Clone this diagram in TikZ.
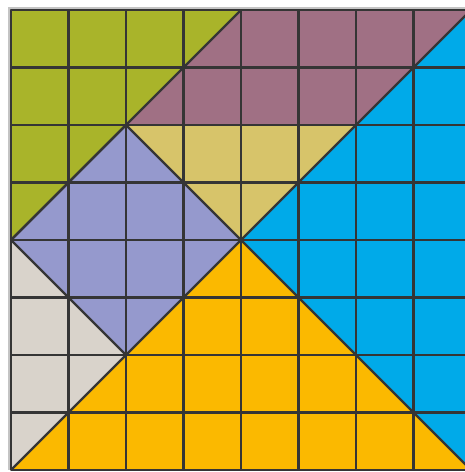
\documentclass[tikz,border=0pt]{standalone}
\begin{document}
\begin{tikzpicture}[x=1pt,y=-1pt,
  piece/.style={draw=linec,line width=2.2pt,line join=round},
  gridl/.style={draw=linec,line width=2.2pt}]
\definecolor{linec}{HTML}{353535}
\definecolor{cgreen}{HTML}{A9B42A}
\definecolor{cmauve}{HTML}{A07084}
\definecolor{ckhaki}{HTML}{D7C46A}
\definecolor{clav}{HTML}{9599CD}
\definecolor{cgray}{HTML}{D9D3CB}
\definecolor{corange}{HTML}{FBB900}
\definecolor{cblue}{HTML}{00AAE9}
\definecolor{shadow}{HTML}{C4C4C4}
\useasboundingbox (0,0) rectangle (465,472);
\clip (0,0) rectangle (465,472);
\fill[white] (0,0) rectangle (465,472);
\fill[shadow] (8,7) rectangle (471,470);
\begin{scope}[shift={(11,10)},x=57.5pt,y=-57.5pt]
  \fill[cgreen] (0,0) -- (4,0) -- (0,4) -- cycle;
  \fill[cmauve] (4,0) -- (8,0) -- (6,2) -- (2,2) -- cycle;
  \fill[ckhaki] (2,2) -- (6,2) -- (4,4) -- cycle;
  \fill[clav] (2,2) -- (4,4) -- (2,6) -- (0,4) -- cycle;
  \fill[cgray] (0,4) -- (2,6) -- (0,8) -- cycle;
  \fill[corange] (4,4) -- (8,8) -- (0,8) -- cycle;
  \fill[cblue] (8,0) -- (8,8) -- (4,4) -- cycle;
  \foreach \i in {1,...,7} {
    \draw[gridl] (\i,0) -- (\i,8);
    \draw[gridl] (0,\i) -- (8,\i);
  }
  \draw[piece] (0,4) -- (4,0);
  \draw[piece] (8,0) -- (4,4) -- (8,8);
  \draw[piece] (2,2) -- (6,2);
  \draw[piece] (2,2) -- (4,4) -- (2,6) -- (0,4) -- cycle;
  \draw[piece] (2,6) -- (0,8);
  \draw[piece] (0,0) rectangle (8,8);
\end{scope}
\end{tikzpicture}
\end{document}
